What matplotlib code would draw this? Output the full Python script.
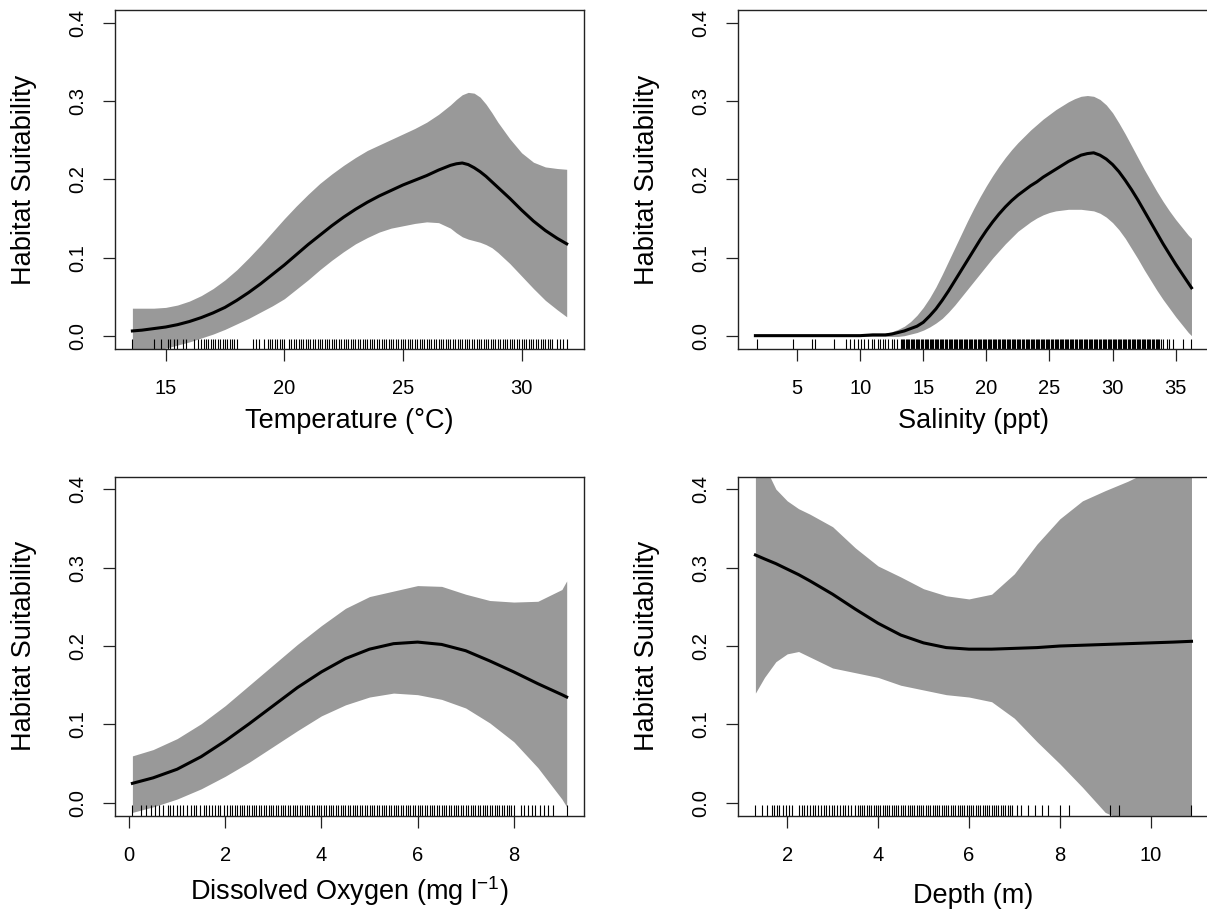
import matplotlib
matplotlib.use("Agg")
import matplotlib.pyplot as plt

plt.rcParams["font.family"] = ["Liberation Sans", "DejaVu Sans"]
plt.rcParams["mathtext.default"] = "regular"

# ---- Temperature ----
temp_x = [13.6, 14, 14.5, 15, 15.5, 16, 16.5, 17, 17.5, 18, 18.5, 19, 19.5, 20, 20.5, 21, 21.5, 22, 22.5,
          23, 23.5, 24, 24.5, 25, 25.5, 26, 26.5, 27, 27.25, 27.5, 27.75, 28, 28.25, 28.5, 28.75, 29, 29.5,
          30, 30.5, 31, 31.5, 31.9]
temp_fit = [0.007, 0.008, 0.010, 0.012, 0.015, 0.019, 0.024, 0.030, 0.037, 0.046, 0.056, 0.067, 0.079, 0.091,
            0.104, 0.117, 0.129, 0.141, 0.152, 0.162, 0.171, 0.179, 0.186, 0.193, 0.199, 0.205, 0.212, 0.218,
            0.220, 0.221, 0.219, 0.215, 0.210, 0.204, 0.197, 0.190, 0.176, 0.161, 0.147, 0.135, 0.125, 0.118]
temp_upr = [0.036, 0.036, 0.036, 0.037, 0.040, 0.045, 0.052, 0.061, 0.072, 0.085, 0.100, 0.116, 0.133, 0.150,
            0.166, 0.181, 0.195, 0.207, 0.218, 0.228, 0.237, 0.244, 0.251, 0.258, 0.265, 0.273, 0.283, 0.295,
            0.302, 0.308, 0.311, 0.310, 0.305, 0.296, 0.285, 0.273, 0.252, 0.234, 0.222, 0.216, 0.214, 0.213]
temp_lwr = [-0.022, -0.020, -0.018, -0.015, -0.011, -0.007, -0.002, 0.003, 0.009, 0.016, 0.023, 0.031, 0.039,
            0.048, 0.060, 0.072, 0.085, 0.097, 0.108, 0.118, 0.126, 0.133, 0.138, 0.141, 0.144, 0.146, 0.145,
            0.138, 0.132, 0.127, 0.124, 0.122, 0.120, 0.117, 0.113, 0.107, 0.093, 0.077, 0.061, 0.046, 0.034,
            0.025]
temp_rug = [13.6, 14.5, 14.8, 15.1, 15.2, 15.35, 15.5, 15.75, 15.85, 16.2, 16.35, 16.5, 16.6, 16.7, 16.8, 16.9,
            17.0, 17.1, 17.2, 17.3, 17.4, 17.5, 17.6, 17.7, 17.8, 17.9, 18.0, 18.7, 18.8, 18.95, 19.15, 19.3,
            19.4, 19.5, 19.6, 19.7, 19.8, 19.9, 20.0,
            20.2, 20.3, 20.4, 20.5, 20.6, 20.7, 20.8, 20.9, 21.0, 21.1, 21.2, 21.3, 21.4, 21.5, 21.6, 21.7,
            21.8, 21.9, 22.0, 22.1, 22.2, 22.3, 22.4, 22.5, 22.6, 22.7, 22.8, 22.9, 23.0, 23.1, 23.2, 23.3,
            23.4, 23.5, 23.6, 23.7, 23.8, 23.9, 24.0, 24.1, 24.2, 24.3, 24.4, 24.5, 24.6, 24.7, 24.8, 24.9,
            25.0, 25.1, 25.2, 25.3, 25.4, 25.5, 25.6, 25.7, 25.8, 25.9, 26.0, 26.1, 26.2, 26.3, 26.4, 26.5,
            26.6, 26.7, 26.8, 26.9, 27.0, 27.1, 27.2, 27.3, 27.4, 27.5, 27.6, 27.7, 27.8, 27.9, 28.0, 28.1,
            28.2, 28.3, 28.4, 28.5, 28.6, 28.7, 28.8, 28.9, 29.0, 29.1, 29.2, 29.3, 29.4, 29.5, 29.6, 29.7,
            29.8, 29.9, 30.0, 30.1, 30.2, 30.3, 30.4, 30.5, 30.6, 30.7, 30.8, 30.9, 31.0, 31.1, 31.2, 31.3,
            31.5, 31.6, 31.75, 31.9]

# ---- Salinity ----
sal_x = [1.7, 4, 6, 8, 10, 11, 12, 12.5, 13, 13.5, 14, 14.5, 15, 15.5, 16, 16.5, 17, 17.5, 18, 18.5, 19,
         19.5, 20, 20.5, 21, 21.5, 22, 22.5, 23, 23.5, 24, 24.5, 25, 25.5, 26, 26.5, 27, 27.5, 28, 28.5,
         29, 29.5, 30, 30.5, 31, 31.5, 32, 32.5, 33, 33.5, 34, 34.5, 35, 35.5, 36, 36.25]
sal_fit = [0.001, 0.001, 0.001, 0.001, 0.001, 0.002, 0.002, 0.003, 0.005, 0.007, 0.010, 0.013, 0.018, 0.026,
           0.035, 0.046, 0.058, 0.071, 0.084, 0.097, 0.110, 0.123, 0.135, 0.146, 0.156, 0.165, 0.173, 0.180,
           0.186, 0.192, 0.197, 0.203, 0.208, 0.213, 0.218, 0.223, 0.227, 0.231, 0.233, 0.234, 0.231, 0.226,
           0.219, 0.210, 0.199, 0.187, 0.174, 0.160, 0.146, 0.132, 0.118, 0.105, 0.092, 0.080, 0.068, 0.062]
sal_upr = [0.001, 0.001, 0.001, 0.001, 0.001, 0.002, 0.004, 0.006, 0.009, 0.013, 0.019, 0.027, 0.037, 0.049,
           0.063, 0.079, 0.096, 0.113, 0.130, 0.147, 0.163, 0.178, 0.192, 0.205, 0.217, 0.228, 0.238, 0.247,
           0.255, 0.263, 0.270, 0.277, 0.283, 0.289, 0.294, 0.299, 0.303, 0.306, 0.307, 0.306, 0.302, 0.295,
           0.285, 0.272, 0.258, 0.243, 0.228, 0.213, 0.199, 0.185, 0.172, 0.160, 0.149, 0.139, 0.129, 0.125]
sal_lwr = [0.000, 0.000, 0.000, 0.000, 0.000, 0.000, 0.000, 0.000, 0.000, 0.001, 0.003, 0.005, 0.008, 0.012,
           0.017, 0.023, 0.031, 0.040, 0.050, 0.060, 0.070, 0.080, 0.090, 0.100, 0.109, 0.118, 0.126, 0.134,
           0.140, 0.146, 0.151, 0.155, 0.158, 0.160, 0.161, 0.162, 0.162, 0.162, 0.161, 0.160, 0.157, 0.152,
           0.145, 0.136, 0.125, 0.112, 0.099, 0.085, 0.072, 0.059, 0.047, 0.036, 0.025, 0.015, 0.005, 0.001]
sal_rug = [1.8, 4.7, 6.2, 6.4, 7.9, 8.9, 9.2, 9.5, 9.8, 10.1, 10.3, 10.6, 10.9, 11.1, 11.4, 11.6, 11.8, 12.0,
           12.2, 12.5, 12.7, 12.9,
           13.2, 13.3, 13.4, 13.5, 13.6, 13.7, 13.8, 13.9, 14.0, 14.1, 14.2, 14.3, 14.4, 14.5, 14.6, 14.7,
           14.8, 14.9, 15.0, 15.1, 15.2, 15.3, 15.4, 15.5, 15.6, 15.7, 15.8, 15.9, 16.0, 16.1, 16.2, 16.3,
           16.4, 16.5, 16.6, 16.7, 16.8, 16.9, 17.0, 17.1, 17.2, 17.3, 17.4, 17.5, 17.6, 17.7, 17.8, 17.9,
           18.0, 18.1, 18.2, 18.3, 18.4, 18.5, 18.6, 18.7, 18.8, 18.9, 19.0, 19.1, 19.2, 19.3, 19.4, 19.5,
           19.6, 19.7, 19.8, 19.9, 20.0, 20.1, 20.2, 20.3, 20.4, 20.5, 20.6, 20.7, 20.8, 20.9, 21.0, 21.1,
           21.2, 21.3, 21.4, 21.5, 21.6, 21.7, 21.8, 21.9, 22.0, 22.1, 22.2, 22.3, 22.4, 22.5, 22.6, 22.7,
           22.8, 22.9, 23.0, 23.1, 23.2, 23.3, 23.4, 23.5, 23.6, 23.7, 23.8, 23.9, 24.0, 24.1, 24.2, 24.3,
           24.4, 24.5, 24.6, 24.7, 24.8, 24.9, 25.0, 25.1, 25.2, 25.3, 25.4, 25.5, 25.6, 25.7, 25.8, 25.9,
           26.0, 26.1, 26.2, 26.3, 26.4, 26.5, 26.6, 26.7, 26.8, 26.9, 27.0, 27.1, 27.2, 27.3, 27.4, 27.5,
           27.6, 27.7, 27.8, 27.9, 28.0, 28.1, 28.2, 28.3, 28.4, 28.5, 28.6, 28.7, 28.8, 28.9, 29.0, 29.1,
           29.2, 29.3, 29.4, 29.5, 29.6, 29.7, 29.8, 29.9, 30.0, 30.1, 30.2, 30.3, 30.4, 30.5, 30.6, 30.7,
           30.8, 30.9, 31.0, 31.1, 31.2, 31.3, 31.4, 31.5, 31.6, 31.7, 31.8, 31.9, 32.0, 32.1, 32.2, 32.3,
           32.4, 32.5, 32.6, 32.7, 32.8, 32.9, 33.0, 33.1, 33.2, 33.3, 33.4, 33.5, 33.6, 33.7, 33.8,
           34.0, 34.3, 34.5, 34.8, 35.6, 36.2]

# ---- Dissolved oxygen ----
do_x = [0.07, 0.5, 1, 1.5, 2, 2.5, 3, 3.5, 4, 4.5, 5, 5.5, 6, 6.5, 7, 7.5, 8, 8.5, 9, 9.1]
do_fit = [0.025, 0.032, 0.043, 0.059, 0.079, 0.101, 0.124, 0.147, 0.167, 0.184, 0.196, 0.203, 0.205, 0.202,
          0.194, 0.181, 0.167, 0.152, 0.138, 0.135]
do_upr = [0.060, 0.068, 0.082, 0.101, 0.124, 0.150, 0.176, 0.202, 0.226, 0.248, 0.263, 0.270, 0.277, 0.276,
          0.266, 0.258, 0.256, 0.257, 0.272, 0.283]
do_lwr = [-0.012, -0.005, 0.005, 0.018, 0.034, 0.052, 0.072, 0.092, 0.111, 0.125, 0.135, 0.140, 0.138, 0.132,
          0.121, 0.102, 0.078, 0.045, 0.005, -0.005]
do_rug = [0.07, 0.25, 0.35, 0.45, 0.55, 0.62, 0.7, 0.8, 0.85, 0.92, 1.0, 1.05, 1.12, 1.2, 1.28, 1.35, 1.4,
          1.47, 1.55, 1.6, 1.67, 1.72, 1.78, 1.85, 1.9, 1.97, 2.03,
          2.1, 2.15, 2.2, 2.25, 2.3, 2.35, 2.4, 2.45, 2.5, 2.55, 2.6, 2.65, 2.7, 2.75, 2.8, 2.85, 2.9, 2.95,
          3.0, 3.05, 3.1, 3.15, 3.2, 3.25, 3.3, 3.35, 3.4, 3.45, 3.5, 3.55, 3.6, 3.65, 3.7, 3.75, 3.8, 3.85,
          3.9, 3.95, 4.0, 4.05, 4.1, 4.15, 4.2, 4.25, 4.3, 4.35, 4.4, 4.45, 4.5, 4.55, 4.6, 4.65, 4.7, 4.75,
          4.8, 4.85, 4.9, 4.95, 5.0, 5.05, 5.1, 5.15, 5.2, 5.25, 5.3, 5.35, 5.4, 5.45, 5.5, 5.55, 5.6, 5.65,
          5.7, 5.75, 5.8, 5.85, 5.9, 5.95, 6.0, 6.05, 6.1, 6.15, 6.2, 6.25, 6.3, 6.35, 6.4, 6.45, 6.5, 6.55,
          6.6, 6.65, 6.7, 6.75, 6.8, 6.85, 6.9, 6.95, 7.0, 7.05, 7.1, 7.15, 7.2, 7.25, 7.3, 7.35, 7.4, 7.45,
          7.5, 7.55, 7.6, 7.65, 7.7, 7.75, 7.8, 7.85, 7.9, 7.95, 8.0,
          8.15, 8.22, 8.3, 8.38, 8.45, 8.55, 8.63, 8.72, 8.82, 9.1]

# ---- Depth ----
dep_x = [1.3, 1.5, 1.75, 2, 2.25, 2.5, 3, 3.5, 4, 4.5, 5, 5.5, 6, 6.5, 7, 7.5, 8, 8.5, 9, 9.5, 10, 10.5, 10.9]
dep_fit = [0.316, 0.311, 0.305, 0.298, 0.291, 0.283, 0.266, 0.247, 0.229, 0.214, 0.204, 0.198, 0.196, 0.196,
           0.197, 0.198, 0.200, 0.201, 0.202, 0.203, 0.204, 0.205, 0.206]
dep_upr = [0.470, 0.430, 0.400, 0.385, 0.375, 0.368, 0.352, 0.325, 0.302, 0.288, 0.273, 0.264, 0.260, 0.266,
           0.292, 0.330, 0.362, 0.385, 0.398, 0.410, 0.424, 0.436, 0.445]
dep_lwr = [0.140, 0.160, 0.180, 0.190, 0.193, 0.186, 0.172, 0.166, 0.160, 0.150, 0.144, 0.138, 0.135, 0.129,
           0.108, 0.078, 0.050, 0.020, -0.012, -0.025, -0.033, -0.038, -0.040]
dep_rug = [1.3, 1.45, 1.55, 1.66, 1.72, 1.78, 1.82, 1.9, 1.97, 2.03, 2.1,
           2.26, 2.32, 2.38, 2.44, 2.5, 2.56, 2.62, 2.68, 2.74, 2.8, 2.86, 2.92, 2.98, 3.04, 3.1, 3.16, 3.22,
           3.28, 3.34, 3.4,
           3.5, 3.55, 3.6, 3.65, 3.7, 3.75, 3.8, 3.85, 3.9, 3.95, 4.0, 4.05, 4.1, 4.15, 4.2, 4.25, 4.3, 4.35,
           4.4, 4.45, 4.5, 4.55, 4.6, 4.65, 4.7, 4.75, 4.8, 4.85, 4.9, 4.95, 5.0, 5.05, 5.1, 5.15, 5.2, 5.25,
           5.3, 5.35, 5.4, 5.45, 5.5, 5.55, 5.6, 5.65, 5.7, 5.75, 5.8, 5.85, 5.9, 5.95, 6.0, 6.05, 6.1, 6.15,
           6.2, 6.25, 6.3, 6.35, 6.4, 6.45, 6.5, 6.55, 6.6, 6.65, 6.7, 6.75, 6.8, 6.85, 6.9, 6.95,
           7.06, 7.15, 7.3, 7.45, 7.6, 7.75, 8.0, 8.2, 9.1, 9.3, 10.9]

y_ticks = [0.0, 0.1, 0.2, 0.3, 0.4]
y_tick_labels = ["0.0", "0.1", "0.2", "0.3", "0.4"]
y_label = "Habitat Suitability"


def draw_panel(ax, x, fit, lwr, upr, rug, xticks, xlabel):
    ax.fill_between(x, lwr, upr, color="#999999", lw=0, zorder=1)
    ax.plot(x, fit, color="black", lw=2.2, zorder=3, solid_joinstyle="round")
    ax.vlines(rug, 0, 0.03, transform=ax.get_xaxis_transform(), color="black", lw=0.8, zorder=2)
    # R style 4% padding of the x range
    pad = 0.04 * (max(x) - min(x))
    ax.set_xlim(min(x) - pad, max(x) + pad)
    ax.set_ylim(-0.016, 0.416)
    ax.set_xticks(xticks)
    ax.set_xticklabels([str(t) for t in xticks])
    ax.set_yticks(y_ticks)
    ax.set_yticklabels(y_tick_labels, rotation=90, va="center")
    ax.tick_params(direction="out", length=8.6, width=0.9, labelsize=14.5, color="#222222")
    ax.tick_params(axis="x", pad=13)
    ax.tick_params(axis="y", pad=11.5)
    for s in ax.spines.values():
        s.set_linewidth(1.0)
        s.set_color("#222222")
    ax.set_xlabel(xlabel, fontsize=19.5)
    ax.set_ylabel(y_label, fontsize=19.5)
    ax.xaxis.set_label_coords(0.5, -0.174)
    ax.yaxis.set_label_coords(-0.166, 0.5)


fig = plt.figure(figsize=(12.07, 9.24), dpi=100)
ax1 = fig.add_axes([0.0953, 0.6223, 0.3886, 0.3669])
ax2 = fig.add_axes([0.6114, 0.6223, 0.3902, 0.3669])
ax3 = fig.add_axes([0.0953, 0.1174, 0.3886, 0.3669])
ax4 = fig.add_axes([0.6114, 0.1174, 0.3902, 0.3669])

draw_panel(ax1, temp_x, temp_fit, temp_lwr, temp_upr, temp_rug, [15, 20, 25, 30], "Temperature (°C)")
draw_panel(ax2, sal_x, sal_fit, sal_lwr, sal_upr, sal_rug, [5, 10, 15, 20, 25, 30, 35], "Salinity (ppt)")
draw_panel(ax3, do_x, do_fit, do_lwr, do_upr, do_rug, [0, 2, 4, 6, 8], "Dissolved Oxygen (mg l$^{-1}$)")
draw_panel(ax4, dep_x, dep_fit, dep_lwr, dep_upr, dep_rug, [2, 4, 6, 8, 10], "Depth (m)")
# the depth title sits a little lower than the oxygen one (plain text vs expression)
ax4.xaxis.set_label_coords(0.5, -0.2)

fig.savefig("out.png", dpi=100)
